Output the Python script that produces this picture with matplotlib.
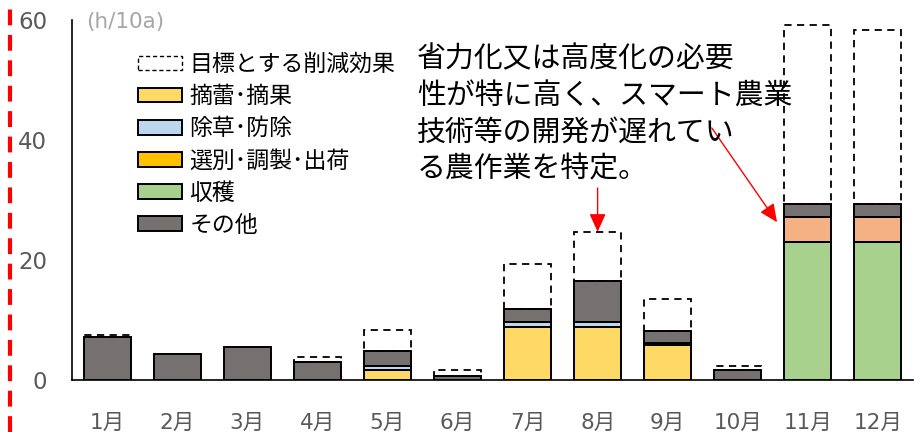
import matplotlib
matplotlib.use("Agg")
import matplotlib.pyplot as plt
import numpy as np
from matplotlib.patches import Patch
from matplotlib.lines import Line2D

months = ['1月', '2月', '3月', '4月', '5月', '6月', '7月', '8月', '9月', '10月', '11月', '12月']
tekirai = [0, 0, 0, 0, 1.7, 0, 8.9, 8.9, 5.8, 0, 0, 0]          # 摘蕾・摘果
josou = [0, 0, 0, 0, 0.6, 0, 0.7, 0.7, 0.4, 0, 0, 0]             # 除草・防除
senbetsu = [0, 0, 0, 0, 0, 0, 0, 0, 0, 0, 0, 0]                  # 選別・調製・出荷
shukaku = [0, 0, 0, 0, 0, 0, 0, 0, 0, 0, 23.05, 23.05]           # 収穫
salmon = [0, 0, 0, 0, 0, 0, 0, 0, 0, 0, 4.05, 4.05]              # (unlabelled segment)
sonota = [7.2, 4.4, 5.55, 2.95, 2.5, 0.67, 2.2, 6.9, 2.0, 1.67, 2.2, 2.2]  # その他
target = [7.45, 4.4, 5.55, 3.9, 8.3, 1.7, 19.4, 24.7, 13.5, 2.4, 59.2, 58.4]  # 目標 total
yticks = [0, 20, 40, 60]
legend_labels = ['目標とする削減効果', '摘蕾･摘果', '除草･防除', '選別･調製･出荷', '収穫', 'その他']

CJK = ['Noto Sans CJK JP', 'DejaVu Sans']
GRAY = '#595959'

fig = plt.figure(figsize=(9.16, 4.32), dpi=100)
ax = fig.add_axes([72/916, 1-380/432, (913-72)/916, 360/432])

x = np.arange(len(months))
w = 0.67
series = [
    (tekirai, '#FFD966'),
    (josou, '#BDD7EE'),
    (senbetsu, '#FFC000'),
    (shukaku, '#A9D18E'),
    (salmon, '#F4B183'),
    (sonota, '#767171'),
]
bottom = np.zeros(len(months))
for vals, col in series:
    v = np.array(vals, dtype=float)
    m = v > 0
    ax.bar(x[m], v[m], w, bottom=bottom[m], color=col, edgecolor='black', linewidth=1.4, zorder=3)
    bottom += v

t = np.array(target)
m = t > bottom + 1e-6
ax.bar(x[m], (t - bottom)[m], w, bottom=bottom[m], facecolor='white', edgecolor='black',
       linewidth=1.3, linestyle=(0, (4, 3)), zorder=2)

ax.set_xlim(-0.5, 11.5)
ax.set_ylim(0, 60)
ax.set_yticks(yticks)
ax.set_yticklabels([str(v) for v in yticks], fontsize=16.5, color=GRAY, family='DejaVu Sans')
ax.set_xticks(x)
ax.set_xticklabels(months, fontsize=15.5, color=GRAY, family=['DejaVu Sans', 'Noto Sans CJK JP'])
ax.tick_params(axis='both', length=0)
ax.tick_params(axis='y', pad=18)
ax.tick_params(axis='x', pad=24)
for s in ['top', 'right']:
    ax.spines[s].set_visible(False)
for s in ['left', 'bottom']:
    ax.spines[s].set_linewidth(1.2)
    ax.spines[s].set_color('black')

ax.text(86/916, 1-12/432, '(h/10a)', transform=fig.transFigure, fontsize=15.5, color='#A6A6A6',
        family='DejaVu Sans', ha='left', va='top')

handles = [
    Patch(facecolor='white', edgecolor='black', linestyle=(0, (3, 2)), linewidth=1.0),
    Patch(facecolor='#FFD966', edgecolor='black', linewidth=1.4),
    Patch(facecolor='#BDD7EE', edgecolor='black', linewidth=1.4),
    Patch(facecolor='#FFC000', edgecolor='black', linewidth=1.4),
    Patch(facecolor='#A9D18E', edgecolor='black', linewidth=1.4),
    Patch(facecolor='#767171', edgecolor='black', linewidth=1.4),
]
fig.legend(handles, legend_labels, loc='upper left', bbox_to_anchor=(138/916, 1-53/432),
           frameon=False, prop={'family': CJK, 'size': 16.5}, handlelength=1.9,
           handleheight=0.6, handletextpad=0.35, labelspacing=0.4, borderpad=0, borderaxespad=0)

fig.text(417/916, 1-44/432,
         '省力化又は高度化の必要\n性が特に高く、スマート農業\n技術等の開発が遅れてい\nる農作業を特定。',
         fontsize=20.8, family=CJK, ha='left', va='top', linespacing=1.29, color='black')

ap = dict(arrowstyle='-|>,head_length=0.55,head_width=0.25', color='red', lw=1.0,
          shrinkA=0, shrinkB=0, mutation_scale=20)
ax.annotate('', xy=(7, target[7]), xytext=(7, 32), arrowprops=ap, annotation_clip=False, zorder=5)
ax.annotate('', xy=(9.56, 26.3), xytext=(8.63, 42), arrowprops=ap, annotation_clip=False, zorder=5)

fig.add_artist(Line2D([10/916, 10/916], [0, 1], transform=fig.transFigure, color='#FF0000',
                      linewidth=3, linestyle=(0, (3.8, 2.3))))

fig.savefig('out.png', dpi=100)
